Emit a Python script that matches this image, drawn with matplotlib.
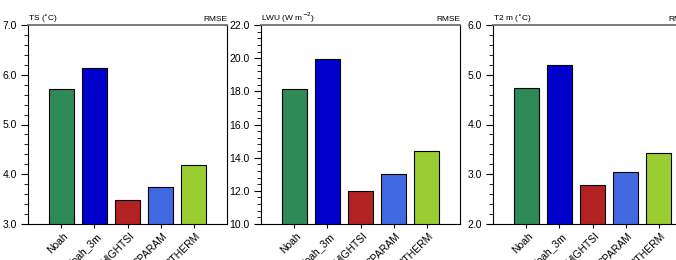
import matplotlib.pyplot as plt
from matplotlib.transforms import Bbox, TransformedBbox

plt.rcParams['font.family'] = ['Liberation Sans', 'DejaVu Sans']

# data
models = ['Noah', 'Noah_3m', 'HIGHTSI', 'SPARAM', 'CTHERM']
colors = ['#2E8B57', '#0000CD', '#B22222', '#4169E1', '#9ACD32']

ts_rmse = [5.71, 6.13, 3.48, 3.75, 4.19]
lwu_rmse = [18.12, 19.95, 11.97, 13.03, 14.42]
t2m_rmse = [4.73, 5.19, 2.78, 3.05, 3.43]

titles = ['TS ($^{\\circ}$C)', 'LWU (W m$^{-2}$)', 'T2 m ($^{\\circ}$C)']
ylims = [(3.0, 7.0), (10.0, 22.0), (2.0, 6.0)]
major = [1.0, 2.0, 1.0]
panels = [ts_rmse, lwu_rmse, t2m_rmse]

W, H = 676, 260
fig = plt.figure(figsize=(W / 100, H / 100), dpi=100)

lefts = [28, 261, 493]
for k in range(3):
    ax = fig.add_axes([lefts[k] / W, 36 / H, 199 / W, 199 / H])
    x = list(range(1, len(models) + 1))
    ax.bar(x, panels[k], width=0.75, color=colors, edgecolor='black', linewidth=0.8)
    ax.set_xlim(0, 6)
    lo, hi = ylims[k]
    ax.set_ylim(lo, hi)
    step = major[k]
    nmaj = int(round((hi - lo) / step))
    ax.set_yticks([lo + i * step for i in range(nmaj + 1)])
    ax.set_yticks([lo + i * step / 5 for i in range(nmaj * 5 + 1)], minor=True)
    ax.set_yticklabels(['%.1f' % (lo + i * step) for i in range(nmaj + 1)], fontsize=7.5)
    ax.tick_params(axis='y', which='major', direction='out', length=5, width=0.8, pad=3)
    ax.tick_params(axis='y', which='minor', direction='out', length=3, width=0.6)
    ax.set_xticks(x)
    ax.set_xticklabels([])
    ax.tick_params(axis='x', direction='out', length=3, width=0.8)
    for s in ['left', 'bottom', 'right']:
        ax.spines[s].set_linewidth(0.8)
    ax.spines['top'].set_color('#707070')
    ax.spines['top'].set_linewidth(1.3)

    ax.set_title(titles[k], loc='left', fontsize=6, pad=3)
    ax.set_title('RMSE', loc='right', fontsize=6, pad=3)

    # rotated labels, each one cut on the left by its neighbour
    tr = ax.get_xaxis_transform()
    for i, name in enumerate(models):
        t = ax.text(x[i] + 0.05, -0.035, name, transform=tr, rotation=45,
                    ha='right', va='top', rotation_mode='anchor', fontsize=7.5,
                    clip_on=False)
        if i > 0:
            t.set_clip_box(TransformedBbox(Bbox([[x[i - 1] + 0.15, -2], [20, 2]]), tr))
            t.set_clip_on(True)

fig.savefig('out.png', dpi=100)
